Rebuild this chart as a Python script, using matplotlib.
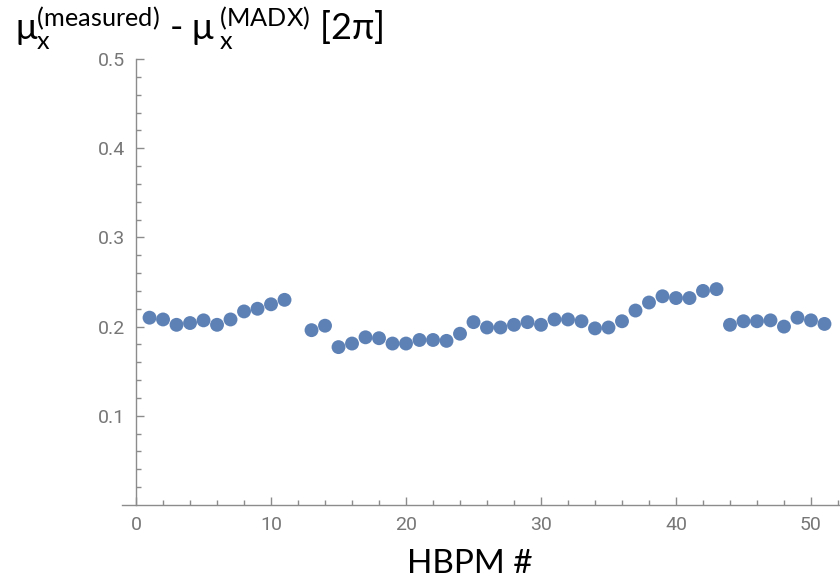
import matplotlib
matplotlib.use('Agg')
import matplotlib.pyplot as plt
from matplotlib import font_manager
import numpy as np

# HBPM index (no reading for #12)
bpm = [1, 2, 3, 4, 5, 6, 7, 8, 9, 10, 11,
       13, 14, 15, 16, 17, 18, 19, 20, 21, 22, 23, 24, 25,
       26, 27, 28, 29, 30, 31, 32, 33, 34, 35, 36, 37, 38,
       39, 40, 41, 42, 43, 44, 45, 46, 47, 48, 49, 50, 51]

# phase advance difference [2pi]
dmu = [0.210, 0.208, 0.202, 0.204, 0.207, 0.202, 0.208, 0.217, 0.220, 0.225, 0.230,
       0.196, 0.201, 0.177, 0.181, 0.188, 0.187, 0.181, 0.181, 0.185, 0.185, 0.184, 0.192, 0.205,
       0.199, 0.199, 0.202, 0.205, 0.202, 0.208, 0.208, 0.206, 0.198, 0.199, 0.206, 0.218, 0.227,
       0.234, 0.232, 0.232, 0.240, 0.242, 0.202, 0.206, 0.206, 0.207, 0.200, 0.210, 0.207, 0.203]

xticks = [0, 10, 20, 30, 40, 50]
yticks = [0.1, 0.2, 0.3, 0.4, 0.5]

plt.rcParams['mathtext.fontset'] = 'custom'
plt.rcParams['mathtext.rm'] = 'Lato'
plt.rcParams['mathtext.default'] = 'regular'

# narrow face for tick labels if there is one
names = set(f.name for f in font_manager.fontManager.ttflist)
tick_font = 'Liberation Sans Narrow' if 'Liberation Sans Narrow' in names else 'Roboto'

axis_grey = '#8c8c8c'
label_grey = '#777777'

fig = plt.figure(figsize=(8.4, 5.81), dpi=100)
ax = fig.add_axes([122 / 840, 76 / 581, 718 / 840, 446 / 581])

ax.scatter(bpm, dmu, s=100, color='#5E81B5', edgecolors='none', zorder=3, clip_on=False)

ax.set_xlim(-1.04, 52.15)
ax.set_ylim(0, 0.5)

# Mathematica-like axes crossing at the origin
ax.spines['top'].set_visible(False)
ax.spines['right'].set_visible(False)
ax.spines['left'].set_position(('data', 0))
for s in ['left', 'bottom']:
    ax.spines[s].set_color(axis_grey)
    ax.spines[s].set_linewidth(1.0)

ax.set_xticks(xticks, [str(v) for v in xticks], fontfamily=tick_font)
ax.set_xticks(np.arange(2, 53, 2), minor=True)
ax.set_yticks(yticks, ['%.1f' % v for v in yticks], fontfamily=tick_font)
ax.set_yticks(np.arange(0.02, 0.5, 0.02), minor=True)

ax.tick_params(which='both', direction='in', color=axis_grey, width=1.0,
               labelcolor=label_grey, labelsize=14)
ax.tick_params(which='major', length=6)
ax.tick_params(which='minor', length=3.5)
ax.tick_params(axis='x', which='major', pad=8)
ax.tick_params(axis='y', which='major', pad=8)

fig.text(15 / 840, 1 - 40 / 581,
         r'$\mu_x^{(measured)}$ - $\mu\,_x^{(MADX)}$ [2$\pi$]',
         fontsize=26, family='Lato', ha='left', va='baseline')
fig.text(470 / 840, 8 / 581, 'HBPM #', fontsize=24, family='Lato',
         ha='center', va='baseline')

plt.savefig('out.png', dpi=100)
